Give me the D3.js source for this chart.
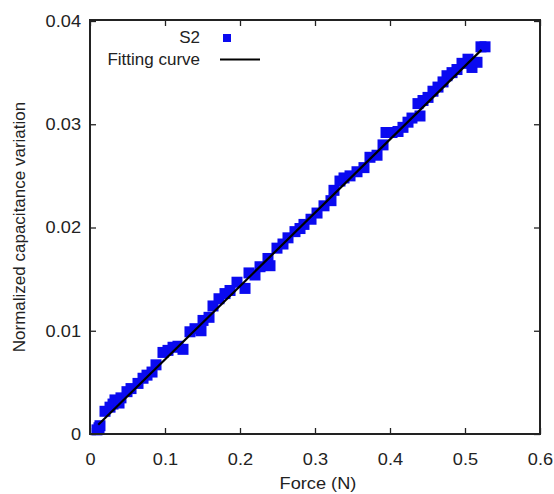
<!DOCTYPE html>
<html>
<head>
<meta charset="utf-8">
<script src="https://cdn.jsdelivr.net/npm/d3@7"></script>
<style>
  body { margin: 0; background: #fff; }
  svg text { font-family: "Liberation Sans", Arial, sans-serif; fill: #222; }
</style>
</head>
<body>
<div id="chart"></div>
<script>
// Data
var forceN = [0.0093, 0.012, 0.0133, 0.020, 0.0267, 0.0307, 0.0333, 0.0387, 0.0413, 0.0493,
  0.0547, 0.064, 0.0707, 0.076, 0.0827, 0.088, 0.0973, 0.104, 0.1107, 0.1173,
  0.124, 0.1333, 0.14, 0.148, 0.1507, 0.1587, 0.164, 0.172, 0.18, 0.1867,
  0.196, 0.2067, 0.212, 0.22, 0.2267, 0.2373, 0.24, 0.2493, 0.2573, 0.264,
  0.2733, 0.28, 0.2853, 0.2947, 0.3027, 0.312, 0.3213, 0.3253, 0.3333, 0.3387,
  0.3467, 0.356, 0.3653, 0.3733, 0.3827, 0.3907, 0.3947, 0.4027, 0.4107, 0.4173,
  0.424, 0.4293, 0.44, 0.4373, 0.444, 0.4507, 0.4573, 0.464, 0.4707, 0.476,
  0.4827, 0.4893, 0.496, 0.504, 0.5093, 0.516, 0.5213, 0.5267];
var capVar = [0.0004, 0.0006, 0.0008, 0.0022, 0.0026, 0.0029, 0.0033, 0.0030, 0.0035, 0.0041,
  0.0044, 0.0049, 0.0054, 0.0057, 0.0060, 0.0067, 0.0079, 0.0081, 0.0084, 0.0085,
  0.0082, 0.0099, 0.0102, 0.0100, 0.0110, 0.0113, 0.0124, 0.0131, 0.0136, 0.0139,
  0.0147, 0.0141, 0.0156, 0.0154, 0.0162, 0.0170, 0.0163, 0.0180, 0.0184, 0.0190,
  0.0196, 0.0199, 0.0203, 0.0208, 0.0214, 0.0221, 0.0226, 0.0236, 0.0245, 0.0248,
  0.0250, 0.0254, 0.0258, 0.0268, 0.0270, 0.0280, 0.0292, 0.0292, 0.0293, 0.0297,
  0.0302, 0.0306, 0.0308, 0.0320, 0.0323, 0.0326, 0.0332, 0.0336, 0.0341, 0.0347,
  0.0350, 0.0353, 0.0359, 0.0363, 0.0355, 0.0360, 0.0375, 0.0375];
var fitX = [0.011, 0.522];
var fitY = [0.0009, 0.0372];
var xTicks = [0, 0.1, 0.2, 0.3, 0.4, 0.5, 0.6];
var yTicks = [0, 0.01, 0.02, 0.03, 0.04];

var width = 554, height = 494;
var margin = {top: 20, right: 14, bottom: 60, left: 90};
var w = width - margin.left - margin.right;
var h = height - margin.top - margin.bottom;

var svg = d3.select("#chart")
  .append("svg")
  .attr("width", width)
  .attr("height", height)
  .append("g")
  .attr("transform", "translate(" + margin.left + "," + margin.top + ")");

var x = d3.scaleLinear().domain([0, 0.6]).range([0, w]);
var y = d3.scaleLinear().domain([0, 0.04]).range([h, 1]);

// the original text is a little wider than Liberation Sans
function stretch(sel) {
  sel.each(function() {
    var t = d3.select(this);
    var tx = +t.attr("x") || 0;
    t.attr("transform", "translate(" + tx + ",0) scale(1.07,1) translate(" + (-tx) + ",0)");
  });
}

// inward ticks on all four sides
function styleAxis(g) {
  g.select(".domain").remove();
  g.selectAll(".tick line").attr("stroke", "#222").attr("stroke-width", 1.3);
  g.selectAll(".tick text").attr("font-size", 17).attr("fill", "#222").call(stretch);
}
svg.append("g")
  .attr("transform", "translate(0," + h + ")")
  .call(d3.axisBottom(x).tickValues(xTicks).tickFormat(d3.format("")).tickSizeInner(-6).tickPadding(19))
  .call(styleAxis);
svg.append("g")
  .call(d3.axisTop(x).tickValues(xTicks).tickFormat("").tickSizeInner(-6))
  .call(styleAxis);
svg.append("g")
  .call(d3.axisLeft(y).tickValues(yTicks).tickFormat(d3.format("")).tickSizeInner(-6).tickPadding(9))
  .call(styleAxis);
svg.append("g")
  .attr("transform", "translate(" + w + ",0)")
  .call(d3.axisRight(y).tickValues(yTicks).tickFormat("").tickSizeInner(-6))
  .call(styleAxis);

// points
var pts = forceN.map((f, i) => [f, capVar[i]]);
svg.append("g").selectAll("rect")
  .data(pts)
  .enter().append("rect")
  .attr("x", d => x(d[0]) - 5.5)
  .attr("y", d => y(d[1]) - 5.5)
  .attr("width", 11)
  .attr("height", 11)
  .attr("fill", "#0a0af0");

// fitting curve
var line = d3.line().x(d => x(d[0])).y(d => y(d[1]));
svg.append("path")
  .attr("fill", "none")
  .attr("stroke", "#000")
  .attr("stroke-width", 2.2)
  .attr("d", line(fitX.map((f, i) => [f, fitY[i]])));

// frame
svg.append("rect")
  .attr("width", w).attr("height", h)
  .attr("fill", "none").attr("stroke", "#222").attr("stroke-width", 2);

// legend
var lg = svg.append("g");
lg.append("text").attr("x", 110).attr("y", 23).attr("text-anchor", "end")
  .attr("font-size", 17).text("S2");
lg.append("rect").attr("x", 133).attr("y", 14).attr("width", 8).attr("height", 8)
  .attr("fill", "#0a0af0");
lg.append("text").attr("x", 110).attr("y", 45).attr("text-anchor", "end")
  .attr("font-size", 17).text("Fitting curve");
lg.append("line").attr("x1", 130).attr("x2", 170).attr("y1", 39.5).attr("y2", 39.5)
  .attr("stroke", "#000").attr("stroke-width", 2.2);

// axis titles
svg.append("text")
  .attr("x", w / 2 + 3).attr("y", h + 55)
  .attr("text-anchor", "middle").attr("font-size", 17)
  .text("Force (N)")
  .call(stretch);
svg.append("text")
  .attr("transform", "translate(" + (-65) + "," + (h / 2) + ") rotate(-90)")
  .attr("text-anchor", "middle").attr("font-size", 17)
  .text("Normalized capacitance variation");
</script>
</body>
</html>
